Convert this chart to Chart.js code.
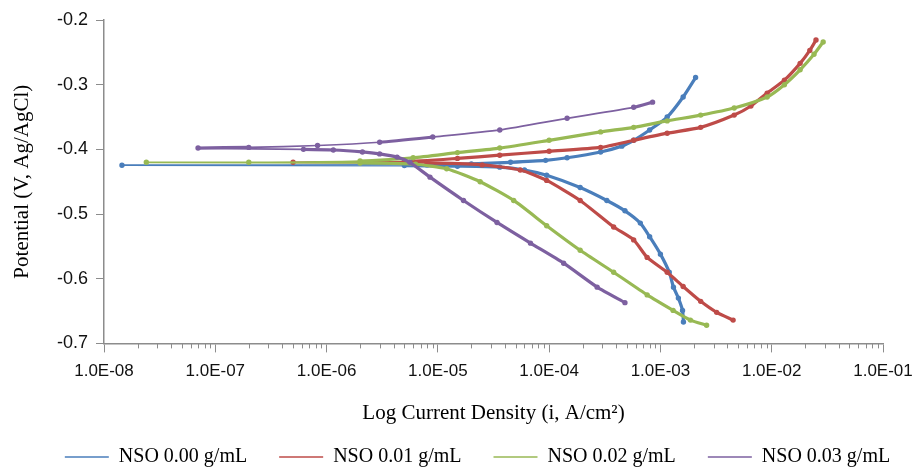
<!DOCTYPE html>
<html>
<head>
<meta charset="utf-8">
<script src="https://cdn.jsdelivr.net/npm/chart.js@4/dist/chart.umd.min.js"></script>
<style>
  html, body { margin: 0; padding: 0; background: #ffffff; }
  #wrap { width: 919px; height: 471px; position: relative; }
</style>
</head>
<body>
<div id="wrap"><canvas id="c" width="919" height="471"></canvas></div>
<script>
// ---------------- data ----------------
const SERIES_NAMES = ['NSO 0.00 g/mL', 'NSO 0.01 g/mL', 'NSO 0.02 g/mL', 'NSO 0.03 g/mL'];

const X_TICK_VALUES = [1e-8, 1e-7, 1e-6, 1e-5, 1e-4, 1e-3, 1e-2, 1e-1];
const X_TICK_LABELS = ['1.0E-08', '1.0E-07', '1.0E-06', '1.0E-05', '1.0E-04', '1.0E-03', '1.0E-02', '1.0E-01'];
const Y_TICK_VALUES = [-0.7, -0.6, -0.5, -0.4, -0.3, -0.2];
const Y_TICK_LABELS = ['-0.7', '-0.6', '-0.5', '-0.4', '-0.3', '-0.2'];

// current density (A/cm2) and potential (V) — cathodic end -> Ecorr -> anodic end
const I_000 = [1.61e-3, 1.58e-3, 1.45e-3, 1.31e-3, 1.2e-3, 1.0e-3, 8.0e-4, 6.6e-4, 4.8e-4, 3.3e-4, 1.9e-4, 9.5e-5, 6.0e-5, 3.6e-5, 1.5e-5, 5.0e-6, 1.45e-8,
               8.0e-6, 2.0e-5, 4.5e-5, 9.3e-5, 1.45e-4, 2.9e-4, 4.5e-4, 5.75e-4, 8.0e-4, 1.15e-3, 1.6e-3, 2.07e-3];
const E_000 = [-0.667, -0.649, -0.630, -0.613, -0.590, -0.562, -0.535, -0.514, -0.495, -0.479, -0.459, -0.440, -0.432, -0.4275, -0.426, -0.425, -0.4245,
               -0.4240, -0.4225, -0.420, -0.417, -0.413, -0.404, -0.395, -0.386, -0.370, -0.350, -0.319, -0.289];

const I_001 = [4.5e-3, 3.2e-3, 2.3e-3, 1.6e-3, 1.15e-3, 7.6e-4, 5.75e-4, 3.8e-4, 1.9e-4, 9.5e-5, 5.5e-5, 2.5e-5, 8.0e-6, 5.0e-7,
               5.0e-6, 1.5e-5, 3.6e-5, 1.0e-4, 2.9e-4, 5.75e-4, 1.15e-3, 2.3e-3, 4.6e-3, 6.5e-3, 9.1e-3, 1.3e-2, 1.8e-2, 2.2e-2, 2.5e-2];
const E_001 = [-0.664, -0.652, -0.635, -0.612, -0.590, -0.567, -0.540, -0.520, -0.479, -0.448, -0.432, -0.424, -0.421, -0.420,
               -0.419, -0.414, -0.409, -0.403, -0.397, -0.386, -0.375, -0.366, -0.347, -0.333, -0.313, -0.293, -0.267, -0.247, -0.231];

const I_002 = [2.6e-3, 1.86e-3, 1.3e-3, 7.6e-4, 3.8e-4, 1.9e-4, 9.5e-5, 4.8e-5, 2.4e-5, 1.2e-5, 6.3e-6, 2.0e-6, 2.4e-8,
               2.0e-7, 2.0e-6, 6.0e-6, 1.5e-5, 3.6e-5, 1.0e-4, 2.9e-4, 5.75e-4, 1.15e-3, 2.3e-3, 4.6e-3, 9.1e-3, 1.3e-2, 1.8e-2, 2.4e-2, 2.9e-2];
const E_002 = [-0.672, -0.664, -0.649, -0.625, -0.590, -0.556, -0.518, -0.479, -0.450, -0.430, -0.423, -0.421, -0.420,
               -0.420, -0.418, -0.413, -0.405, -0.398, -0.386, -0.373, -0.366, -0.356, -0.347, -0.336, -0.319, -0.300, -0.277, -0.253, -0.234];

const I_003 = [4.8e-4, 2.7e-4, 1.35e-4, 6.8e-5, 3.4e-5, 1.7e-5, 8.5e-6, 5.6e-6, 4.3e-6, 3.0e-6, 2.1e-6, 1.15e-6, 6.2e-7, 7.0e-8,
               2.0e-7, 8.3e-7, 3.0e-6, 9.0e-6, 3.6e-5, 1.45e-4, 5.75e-4, 8.5e-4];
const E_003 = [-0.637, -0.613, -0.576, -0.545, -0.513, -0.479, -0.443, -0.420, -0.412, -0.407, -0.404, -0.401, -0.400, -0.398,
               -0.397, -0.394, -0.389, -0.381, -0.370, -0.352, -0.335, -0.327];

const SERIES_I = [I_000, I_001, I_002, I_003];
const SERIES_E = [E_000, E_001, E_002, E_003];
const COLORS = ['#4A7EBB', '#BE4B48', '#98B954', '#7D60A0'];

// ---------------- chart ----------------
const AXIS_GRAY = '#8c8c8c';
const LEGEND_GAP = 32;
const isDecade = v => Math.abs(Math.log10(v) - Math.round(Math.log10(v))) < 1e-6;

const datasets = SERIES_NAMES.map((name, k) => ({
  label: name,
  data: SERIES_I[k].map((x, j) => ({ x: x, y: SERIES_E[k][j] })),
  showLine: true,
  borderColor: COLORS[k],
  backgroundColor: COLORS[k],
  borderWidth: 3.2,
  pointRadius: 1.1,
  pointHoverRadius: 0,
  tension: 0.2,
  segment: {
    borderWidth: c => Math.abs(c.p1.x - c.p0.x) > 60 ? 1.7 : undefined
  },
  order: 3 - k
}));

const minorTicks = {
  id: 'minorTicks',
  afterDraw(chart) {
    const s = chart.scales.x, ctx = chart.ctx, b = chart.chartArea.bottom;
    ctx.save();
    ctx.strokeStyle = AXIS_GRAY;
    ctx.lineWidth = 1;
    s.ticks.forEach(t => {
      if (isDecade(t.value)) return;
      const px = Math.round(s.getPixelForValue(t.value)) + 0.5;
      ctx.beginPath();
      ctx.moveTo(px, b);
      ctx.lineTo(px, b + 5);
      ctx.stroke();
    });
    ctx.restore();
  }
};

// legend: keep the wide horizontal gap between items, but a tighter vertical offset
const legendShift = {
  id: 'legendShift',
  afterLayout(chart) {
    const lg = chart.legend;
    if (!lg) return;
    lg.left += 18; lg.right += 18;
    lg.top -= 14;
  }
};

new Chart(document.getElementById('c'), {
  type: 'scatter',
  data: { datasets },
  options: {
    responsive: false,
    animation: false,
    devicePixelRatio: 1,
    layout: { padding: { top: 20, right: 0, bottom: 0, left: 0 } },
    plugins: {
      tooltip: { enabled: false },
      legend: {
        position: 'bottom',
        maxHeight: 42,
        labels: {
          usePointStyle: true,
          pointStyle: 'line',
          pointStyleWidth: 44,
          padding: LEGEND_GAP,
          color: '#000',
          font: { family: 'Liberation Serif', size: 20 },
          sort: (a, b) => a.datasetIndex - b.datasetIndex,
          generateLabels(chart) {
            const items = Chart.defaults.plugins.legend.labels.generateLabels(chart);
            items.forEach(it => { it.lineWidth = 1.5; });
            return items;
          }
        }
      }
    },
    scales: {
      x: {
        type: 'logarithmic',
        position: 'bottom',
        min: X_TICK_VALUES[0],
        max: X_TICK_VALUES[X_TICK_VALUES.length - 1],
        afterBuildTicks(scale) {
          const t = [];
          for (let d = 0; d < X_TICK_VALUES.length; d++) {
            t.push({ value: X_TICK_VALUES[d], major: true });
            if (d < X_TICK_VALUES.length - 1) {
              for (let m = 2; m <= 9; m++) t.push({ value: X_TICK_VALUES[d] * m, major: false });
            }
          }
          scale.ticks = t;
        },
        afterFit(scale) { scale.paddingRight = 36; },
        ticks: {
          autoSkip: false,
          maxRotation: 0,
          minRotation: 0,
          padding: 9,
          color: '#111',
          font: { family: 'Liberation Sans', size: 17 },
          callback(value) {
            const idx = X_TICK_VALUES.findIndex(t => Math.abs(Math.log10(t) - Math.log10(value)) < 1e-6);
            return idx >= 0 ? X_TICK_LABELS[idx] : '';
          }
        },
        grid: {
          drawOnChartArea: false,
          drawTicks: true,
          tickLength: 9,
          tickColor: c => (c.tick && isDecade(c.tick.value)) ? AXIS_GRAY : 'rgba(0,0,0,0)'
        },
        border: { display: true, color: AXIS_GRAY, width: 1.5 },
        title: {
          display: true,
          text: 'Log Current Density (i, A/cm²)',
          color: '#000',
          font: { family: 'Liberation Serif', size: 21 },
          padding: { top: 10, bottom: 3 }
        }
      },
      y: {
        type: 'linear',
        min: Y_TICK_VALUES[0],
        max: Y_TICK_VALUES[Y_TICK_VALUES.length - 1],
        afterBuildTicks(scale) {
          scale.ticks = Y_TICK_VALUES.map(v => ({ value: v }));
        },
        afterFit(scale) { scale.width = 104; },
        ticks: {
          padding: 8,
          color: '#111',
          font: { family: 'Liberation Sans', size: 18 },
          callback(value) {
            const idx = Y_TICK_VALUES.findIndex(t => Math.abs(t - value) < 1e-9);
            return idx >= 0 ? Y_TICK_LABELS[idx] : '';
          }
        },
        grid: { drawOnChartArea: false, drawTicks: true, tickLength: 8, tickColor: AXIS_GRAY },
        border: { display: true, color: AXIS_GRAY, width: 1.5 },
        title: {
          display: true,
          text: 'Potential (V, Ag/AgCl)',
          color: '#000',
          font: { family: 'Liberation Serif', size: 21 },
          padding: { top: 10, bottom: 0 }
        }
      }
    }
  },
  plugins: [minorTicks, legendShift]
});
</script>
</body>
</html>
